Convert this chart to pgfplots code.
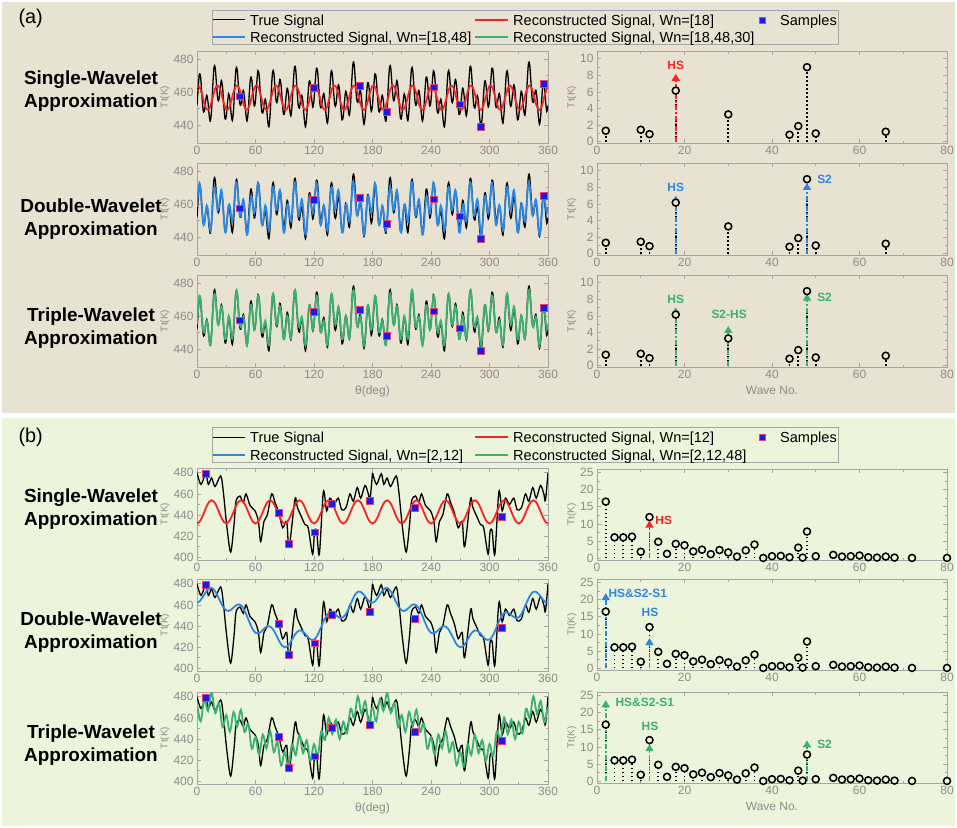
\documentclass[border=0pt]{standalone}
\usepackage{pgfplots}
\pgfplotsset{compat=1.18}
\usepackage{pgfplotstable}
\usepackage{fontspec}
\setmainfont{Liberation Sans}
\usetikzlibrary{arrows.meta}

\definecolor{bgA}{RGB}{231,226,210}
\definecolor{bgB}{RGB}{237,244,220}
\definecolor{axg}{RGB}{165,165,165}
\definecolor{tlg}{RGB}{140,140,140}
\definecolor{cRed}{RGB}{250,35,35}
\definecolor{cBlue}{RGB}{45,135,225}
\definecolor{cGreen}{RGB}{60,175,115}
\definecolor{sBlue}{RGB}{25,25,245}
\definecolor{sEdge}{RGB}{235,60,110}

% ---------- (a) true signal, one 180-degree period
\pgfplotstableread{
t v
0 451.90
1.25 462.91
2.5 471.08
3.75 468.85
5 458.34
6.25 449.06
7.5 448.28
8.75 454.13
10 458.05
11.25 454.14
12.5 445.68
13.75 442.23
15 449.84
16.25 464.55
17.5 475.36
18.75 474.52
20 464.56
21.25 455.66
22.5 455.53
23.75 462.35
25 466.97
26.25 462.61
27.5 451.78
28.75 443.74
30 445.14
31.25 453.27
32.5 458.86
33.75 455.64
35 446.93
36.25 442.69
37.5 449.46
38.75 463.63
40 474.28
41.25 473.43
42.5 463.22
43.75 453.53
45 452.10
46.25 457.40
47.5 460.95
48.75 456.62
50 447.35
51.25 442.40
52.5 447.88
53.75 460.19
55 469.01
56.25 467.30
57.5 458.06
58.75 451.49
60 454.84
61.25 465.38
62.5 472.96
63.75 470.06
65 458.82
66.25 448.79
67.5 447.27
68.75 452.43
70 455.73
71.25 451.32
72.5 442.49
73.75 438.82
75 446.37
76.25 461.19
77.5 472.27
78.75 471.85
80 462.43
81.25 454.17
82.5 454.75
83.75 462.31
85 467.69
86.25 464.05
87.5 453.86
88.75 446.38
90 448.20
91.25 456.61
92.5 462.32
93.75 459.05
95 450.14
96.25 445.54
97.5 451.82
98.75 465.39
100 475.35
101.25 473.76
102.5 462.80
103.75 452.37
105 450.26
106.25 454.97
107.5 458.04
108.75 453.38
110 443.92
111.25 438.94
112.5 444.57
113.75 457.17
115 466.43
116.25 465.29
117.5 456.70
118.75 450.86
120 454.96
121.25 466.25
122.5 474.54
123.75 472.26
125 461.55
126.25 451.91
127.5 450.64
128.75 455.89
130 459.12
131.25 454.47
132.5 445.26
133.75 441.07
135 448.00
136.25 462.12
137.5 472.45
138.75 471.28
140 461.13
141.25 452.20
142.5 452.22
143.75 459.33
145 464.39
146.25 460.60
147.5 450.42
148.75 443.11
150 445.26
151.25 454.14
152.5 460.44
153.75 457.84
155 449.66
156.25 445.81
157.5 452.83
158.75 467.09
160 477.67
161.25 476.58
162.5 465.99
163.75 455.78
165 453.73
166.25 458.33
167.5 461.13
168.75 456.05
170 446.05
171.25 440.43
172.5 445.35
173.75 457.21
175 465.71
176.25 463.85
177.5 454.62
178.75 448.22
180 451.90
}\trueA

% ---------- (a) reconstruction Wn=[18,48], one 60-degree period
\pgfplotstableread{
t v
0 458.38
1.25 467.46
2.5 472.91
3.75 468.62
5 457.34
6.25 448.18
7.5 447.85
8.75 454.28
10 459.10
11.25 456.27
12.5 448.34
13.75 443.90
15 448.93
16.25 460.57
17.5 469.63
18.75 469.45
20 462.15
21.25 456.25
22.5 457.93
23.75 464.85
25 468.55
26.25 463.16
27.5 451.62
28.75 443.07
30 444.12
31.25 452.50
32.5 459.55
33.75 458.88
35 452.70
36.25 449.36
37.5 454.65
38.75 465.68
40 473.36
41.25 471.23
42.5 461.70
43.75 453.64
45 453.57
46.25 459.39
47.5 462.83
48.75 458.05
50 447.89
51.25 441.29
52.5 444.57
53.75 455.11
55 463.91
56.25 464.34
57.5 458.42
58.75 454.47
60 458.38
}\blueA

% ---------- (a) reconstruction Wn=[18,48,30], one 60-degree period
\pgfplotstableread{
t v
0 455.10
1.25 465.07
2.5 472.39
3.75 470.19
5 460.35
6.25 451.39
7.5 449.93
8.75 454.37
10 457.16
11.25 453.11
12.5 445.26
13.75 442.18
15 449.27
16.25 462.84
17.5 472.89
18.75 472.35
20 463.49
21.25 455.48
22.5 455.37
23.75 461.55
25 465.88
26.25 462.22
27.5 452.80
28.75 445.88
30 447.40
31.25 454.89
32.5 460.07
33.75 457.31
35 449.69
36.25 446.15
37.5 452.57
38.75 465.59
40 475.30
41.25 474.39
42.5 464.78
43.75 455.36
45 453.23
46.25 457.12
47.5 459.57
48.75 455.15
50 446.55
51.25 442.06
52.5 447.13
53.75 458.41
55 466.58
56.25 465.28
57.5 457.24
58.75 451.66
60 455.10
}\greenA

% ---------- (b) reconstruction Wn=[2,12], one 180-degree period
\pgfplotstableread{
t v
0 462.07
2.5 463.32
5 466.15
7.5 469.82
10 473.32
12.5 475.67
15 476.11
17.5 474.4
20 470.78
22.5 466.03
25 461.14
27.5 457.13
30 454.76
32.5 454.27
35 455.45
37.5 457.54
40 459.57
42.5 460.54
45 459.72
47.5 456.87
50 452.25
52.5 446.63
55 441.03
57.5 436.46
60 433.68
62.5 432.96
65 434.05
67.5 436.23
70 438.49
72.5 439.87
75 439.61
77.5 437.47
80 433.72
82.5 429.1
85 424.64
87.5 421.33
90 419.93
92.5 420.68
95 423.35
97.5 427.18
100 431.18
102.5 434.33
105 435.89
107.5 435.6
110 433.72
112.5 430.97
115 428.36
117.5 426.87
120 427.24
122.5 429.73
125 434.05
127.5 439.46
130 444.93
132.5 449.46
135 452.28
137.5 453.13
140 452.25
142.5 450.37
145 448.47
147.5 447.54
150 448.32
152.5 451.04
155 455.45
157.5 460.77
160 466.01
162.5 470.13
165 472.39
167.5 472.53
170 470.78
172.5 467.9
175 464.86
177.5 462.67
180 462.07
}\blueB

% ---------- (b) reconstruction Wn=[2,12,48], one 180-degree period
\pgfplotstableread{
t v
0 470.07
1.25 466.7
2.5 459.32
3.75 456.74
5 462.15
6.25 471.99
7.5 477.82
8.75 475.57
10 469.32
11.25 466.5
12.5 471.67
13.75 479.89
15 484.11
16.25 479.26
17.5 470.4
18.75 464.59
20 466.78
21.25 472.4
22.5 474.03
23.75 467.59
25 457.14
26.25 451.14
27.5 453.13
28.75 459.95
30 462.76
31.25 458.52
32.5 450.27
33.75 446.86
35 451.45
36.25 460.5
37.5 465.54
38.75 462.56
40 455.57
41.25 452.06
42.5 456.54
43.75 464.13
45 467.72
46.25 462.3
47.5 452.87
48.75 446.56
50 448.25
51.25 453.44
52.5 454.63
53.75 447.83
55 437.03
56.25 430.75
57.5 432.46
58.75 439.07
60 441.68
61.25 437.32
62.5 428.96
63.75 425.51
65 430.05
66.25 439.14
67.5 444.23
68.75 441.36
70 434.49
71.25 431.18
72.5 435.87
73.75 443.74
75 447.61
76.25 442.54
77.5 433.47
78.75 427.6
80 429.72
81.25 435.41
82.5 437.1
83.75 430.87
85 420.64
86.25 414.99
87.5 417.33
88.75 424.63
90 427.93
91.25 424.31
92.5 416.68
93.75 414.02
95 419.35
96.25 429.27
97.5 435.18
98.75 433.18
100 427.18
101.25 424.76
102.5 430.33
103.75 439.11
105 443.89
106.25 439.75
107.5 431.6
108.75 426.66
110 429.72
111.25 436.35
112.5 438.97
113.75 433.67
115 424.36
116.25 419.62
117.5 422.87
118.75 431.06
120 435.24
121.25 432.49
122.5 425.73
123.75 423.89
125 430.05
126.25 440.76
127.5 447.46
128.75 446.2
130 440.93
131.25 439.2
132.5 445.46
133.75 454.87
135 460.28
136.25 456.71
137.5 449.13
138.75 444.69
140 448.25
141.25 455.31
142.5 458.37
143.75 453.42
145 444.47
146.25 440.0
147.5 443.54
148.75 451.93
150 456.32
151.25 453.68
152.5 447.04
153.75 445.25
155 451.45
156.25 462.11
157.5 468.77
158.75 467.39
160 462.01
161.25 460.07
162.5 466.13
163.75 475.26
165 480.39
166.25 476.46
167.5 468.53
168.75 463.66
170 466.78
171.25 473.34
172.5 475.9
173.75 470.38
175 460.86
176.25 455.77
177.5 458.67
178.75 466.37
180 470.07
}\greenB

% ---------- (b) true signal, one 180-degree period
\pgfplotstableread{
t v
0 480
4.1 469
9 479
11.6 469
15 475
18.5 467
24.3 477
27 462
30.4 431
34.5 405
38 431
40 453
44 458
47.5 452
50.3 460
54.4 449
59.5 444
63 434
65.3 415
68.7 434
72.1 440
76.6 460
80 452
84 442
87.9 428
92 434
94.5 410
100.5 455
103 447
107.3 438
110.7 431
114 428
118.6 403
120.5 424
122.7 425
125.5 403
129.6 462
133 444
136.4 456
140.5 450
144.9 456
148.4 445
152.8 447
156.9 460
160.3 453
164.4 466
167.9 456
172.3 468
175.7 460
177.4 454
180 480
}\trueB

\pgfplotstableread{
t v
43.4 457.5
120 462.6
166.5 463.7
194.5 447.9
242.7 463
269.7 452.6
291 438.7
355.2 465.1
}\sampA

\pgfplotstableread{
t v
9.2 479.4
84.1 442.2
94 412.7
120.3 423.9
138.5 450.9
177.4 453.7
223.3 447.1
312.8 438.4
}\sampB

\pgfplotsset{
 base/.style={scale only axis, anchor=north west,
   axis line style={axg,line width=0.8bp},
   every tick/.style={axg,line width=0.8bp},
   tick align=inside, major tick length=4bp, minor tick length=2.5bp,
   tick label style={font=\fontsize{12}{12}\selectfont, text=tlg},
   /pgf/number format/assume math mode=true,
   xlabel style={font=\fontsize{12}{12}\selectfont, text=tlg},
   ylabel style={font=\fontsize{10}{10}\selectfont, text=tlg},
   ylabel shift=-3bp,
   ylabel={Tt(K)}},
 leftax/.style={base, width=351bp, xmin=0, xmax=360, xtick={0,60,...,360}, minor x tick num=1},
 leftA/.style={leftax, height=92bp, ymin=429, ymax=485, ytick={440,460,480}, minor y tick num=1},
 leftB/.style={leftax, height=92bp, ymin=397.5, ymax=484.5, ytick={400,420,...,480}, minor y tick num=1},
 rightax/.style={base, width=350bp, xmin=0, xmax=80, xtick={0,20,...,80}, minor x tick num=1},
 rightA/.style={rightax, height=92bp, ymin=-0.15, ymax=10.95, ytick={0,2,...,10}, minor y tick num=1},
 rightB/.style={rightax, height=91bp, ymin=-0.5, ymax=26, ytick={0,5,...,25}, minor y tick num=1},
 trueline/.style={black, line width=1.3bp, smooth, forget plot},
 recline/.style={#1, line width=1.8bp, smooth, forget plot},
 samp/.style={only marks, mark=square*, mark size=3.4bp, mark options={solid, fill=sBlue, draw=sEdge, line width=0.35bp}, forget plot},
 stem/.style={ycomb, black, line width=1.8bp, dash pattern=on 1.6bp off 2.4bp, mark=*, mark size=3.5bp, mark options={solid, line width=1.5bp, draw=black, fill=#1}, forget plot},
 arr/.style={#1, line width=1.6bp, dash pattern=on 5bp off 2bp on 1.6bp off 2bp, -{Triangle[width=8bp,length=7bp]}, quiver={u=0, v=\thisrow{v}}, forget plot},
}
\tikzset{lab/.style={text=#1, font=\fontsize{12}{12}\selectfont\bfseries, inner sep=0pt},
  lg/.style={anchor=base west, inner sep=0pt, font=\fontsize{14.6}{15}\selectfont}}

% legend drawn at given top offset (in bp, downwards)
\newcommand{\legendbox}[6]{%
  % #1 = y offset, #2 = red label, #3 = blue label, #4 = green label
  \begin{scope}[yshift=-#1 bp]
  \draw[axg, line width=0.8bp] (212bp,-10bp) rectangle (838bp,-44.5bp);
  \draw[black, line width=1.3bp] (213bp,-19.8bp) -- (245bp,-19.8bp);
  \node[lg] at (250bp,-25bp) {True Signal};
  \draw[cRed, line width=1.8bp] (475bp,-19.8bp) -- (508bp,-19.8bp);
  \node[lg] at (513bp,-25bp) {#2};
  \fill[sBlue, draw=sEdge, line width=0.35bp] (759bp,-16.8bp) rectangle (765bp,-22.8bp);
  \node[lg] at (780bp,-25bp) {Samples};
  \draw[cBlue, line width=1.8bp] (213bp,-37.3bp) -- (245bp,-37.3bp);
  \node[lg] at (250bp,-42.5bp) {#3};
  \draw[cGreen, line width=1.8bp] (475bp,-37.3bp) -- (508bp,-37.3bp);
  \node[lg] at (513bp,-42.5bp) {#4};
  \end{scope}}

\begin{document}
\begin{tikzpicture}
\useasboundingbox (0,0) rectangle (957bp,-828bp);
\fill[white] (0,0) rectangle (957bp,-828bp);
\fill[bgA] (2bp,-2bp) rectangle (955bp,-413bp);
\fill[bgB] (2bp,-418bp) rectangle (955bp,-826bp);

\node[anchor=west, font=\fontsize{20}{20}\selectfont] at (15bp,-18bp) {(a)};
\node[anchor=west, font=\fontsize{20}{20}\selectfont] at (15bp,-437bp) {(b)};
\foreach \y/\t in {91.5/Single, 219/Double, 328.5/Triple, 509/Single, 632.5/Double, 745.5/Triple}
  \node[align=center, font=\bfseries\fontsize{19}{23}\selectfont] at (91bp,-\y bp) {\t-Wavelet\\Approximation};

\legendbox{0}{Reconstructed Signal, Wn=[18]}{Reconstructed Signal, Wn=[18,48]}{Reconstructed Signal, Wn=[18,48,30]}{}{}
\legendbox{417.5}{Reconstructed Signal, Wn=[12]}{Reconstructed Signal, Wn=[2,12]}{Reconstructed Signal, Wn=[2,12,48]}{}{}

% ================= (a) left column
\begin{axis}[leftA, at={(197bp,-51bp)}]
\addplot[trueline] table[x=t, y=v]{\trueA};
\addplot[trueline] table[x expr=\thisrow{t}+180, y=v]{\trueA};
\addplot[recline=cRed] coordinates {
(0,463.73)(2.5,463.28)(5,458.92)(7.5,453.2)(10,449.47)(12.5,449.92)(15,454.28)(17.5,460)
(20,463.73)(22.5,463.28)(25,458.92)(27.5,453.2)(30,449.47)(32.5,449.92)(35,454.28)(37.5,460)
(40,463.73)(42.5,463.28)(45,458.92)(47.5,453.2)(50,449.47)(52.5,449.92)(55,454.28)(57.5,460)
(60,463.73)(62.5,463.28)(65,458.92)(67.5,453.2)(70,449.47)(72.5,449.92)(75,454.28)(77.5,460)
(80,463.73)(82.5,463.28)(85,458.92)(87.5,453.2)(90,449.47)(92.5,449.92)(95,454.28)(97.5,460)
(100,463.73)(102.5,463.28)(105,458.92)(107.5,453.2)(110,449.47)(112.5,449.92)(115,454.28)(117.5,460)
(120,463.73)(122.5,463.28)(125,458.92)(127.5,453.2)(130,449.47)(132.5,449.92)(135,454.28)(137.5,460)
(140,463.73)(142.5,463.28)(145,458.92)(147.5,453.2)(150,449.47)(152.5,449.92)(155,454.28)(157.5,460)
(160,463.73)(162.5,463.28)(165,458.92)(167.5,453.2)(170,449.47)(172.5,449.92)(175,454.28)(177.5,460)
(180,463.73)(182.5,463.28)(185,458.92)(187.5,453.2)(190,449.47)(192.5,449.92)(195,454.28)(197.5,460)
(200,463.73)(202.5,463.28)(205,458.92)(207.5,453.2)(210,449.47)(212.5,449.92)(215,454.28)(217.5,460)
(220,463.73)(222.5,463.28)(225,458.92)(227.5,453.2)(230,449.47)(232.5,449.92)(235,454.28)(237.5,460)
(240,463.73)(242.5,463.28)(245,458.92)(247.5,453.2)(250,449.47)(252.5,449.92)(255,454.28)(257.5,460)
(260,463.73)(262.5,463.28)(265,458.92)(267.5,453.2)(270,449.47)(272.5,449.92)(275,454.28)(277.5,460)
(280,463.73)(282.5,463.28)(285,458.92)(287.5,453.2)(290,449.47)(292.5,449.92)(295,454.28)(297.5,460)
(300,463.73)(302.5,463.28)(305,458.92)(307.5,453.2)(310,449.47)(312.5,449.92)(315,454.28)(317.5,460)
(320,463.73)(322.5,463.28)(325,458.92)(327.5,453.2)(330,449.47)(332.5,449.92)(335,454.28)(337.5,460)
(340,463.73)(342.5,463.28)(345,458.92)(347.5,453.2)(350,449.47)(352.5,449.92)(355,454.28)(357.5,460)
(360,463.73)};
\addplot[samp] table[x=t,y=v]{\sampA};
\end{axis}

\begin{axis}[leftA, at={(197bp,-163bp)}]
\addplot[trueline] table[x=t, y=v]{\trueA};
\addplot[trueline] table[x expr=\thisrow{t}+180, y=v]{\trueA};
\pgfplotsinvokeforeach{0,60,120,180,240,300}{\addplot[recline=cBlue] table[x expr=\thisrow{t}+#1, y=v]{\blueA};}
\addplot[samp] table[x=t,y=v]{\sampA};
\end{axis}

\begin{axis}[leftA, at={(197bp,-275bp)}, xlabel={θ(deg)}]
\addplot[trueline] table[x=t, y=v]{\trueA};
\addplot[trueline] table[x expr=\thisrow{t}+180, y=v]{\trueA};
\pgfplotsinvokeforeach{0,60,120,180,240,300}{\addplot[recline=cGreen] table[x expr=\thisrow{t}+#1, y=v]{\greenA};}
\addplot[samp] table[x=t,y=v]{\sampA};
\end{axis}

% ================= (a) right column
\begin{axis}[rightA, at={(597bp,-51bp)}]
\addplot[stem=bgA] coordinates {(2,1.33)(10,1.45)(12,0.92)(18,6.17)(30,3.3)(44,0.85)(46,1.89)(48,9.0)(50,1.0)(66,1.21)};
\addplot[arr=cRed] table[x=x,y=y]{
x y v
18 0 8.2
};
\node[lab=cRed] at (axis cs:18,9.2) {HS};
\end{axis}

\begin{axis}[rightA, at={(597bp,-163bp)}]
\addplot[stem=bgA] coordinates {(2,1.33)(10,1.45)(12,0.92)(18,6.17)(30,3.3)(44,0.85)(46,1.89)(48,9.0)(50,1.0)(66,1.21)};
\addplot[arr=cBlue] table[x=x,y=y]{
x y v
18 0 7.0
48 0 8.55
};
\node[lab=cBlue] at (axis cs:18,8.0) {HS};
\node[lab=cBlue, anchor=west] at (axis cs:50.3,9.0) {S2};
\end{axis}

\begin{axis}[rightA, at={(597bp,-275bp)}, xlabel={Wave No.}]
\addplot[stem=bgA] coordinates {(2,1.33)(10,1.45)(12,0.92)(18,6.17)(30,3.3)(44,0.85)(46,1.89)(48,9.0)(50,1.0)(66,1.21)};
\addplot[arr=cGreen] table[x=x,y=y]{
x y v
18 0 7.05
30 0 4.8
48 0 8.7
};
\node[lab=cGreen] at (axis cs:18,8.0) {HS};
\node[lab=cGreen] at (axis cs:30.2,6.25) {S2-HS};
\node[lab=cGreen, anchor=west] at (axis cs:50.3,8.3) {S2};
\end{axis}

% ================= (b) left column
\begin{axis}[leftB, at={(197bp,-468bp)}]
\addplot[trueline] table[x=t, y=v]{\trueB};
\addplot[trueline] table[x expr=\thisrow{t}+180, y=v]{\trueB};
\addplot[recline=cRed] coordinates {
(0,432)(2.5,433.47)(5,437.5)(7.5,443)(10,448.5)(12.5,452.53)(15,454)(17.5,452.53)(20,448.5)(22.5,443)(25,437.5)(27.5,433.47)
(30,432)(32.5,433.47)(35,437.5)(37.5,443)(40,448.5)(42.5,452.53)(45,454)(47.5,452.53)(50,448.5)(52.5,443)(55,437.5)(57.5,433.47)
(60,432)(62.5,433.47)(65,437.5)(67.5,443)(70,448.5)(72.5,452.53)(75,454)(77.5,452.53)(80,448.5)(82.5,443)(85,437.5)(87.5,433.47)
(90,432)(92.5,433.47)(95,437.5)(97.5,443)(100,448.5)(102.5,452.53)(105,454)(107.5,452.53)(110,448.5)(112.5,443)(115,437.5)(117.5,433.47)
(120,432)(122.5,433.47)(125,437.5)(127.5,443)(130,448.5)(132.5,452.53)(135,454)(137.5,452.53)(140,448.5)(142.5,443)(145,437.5)(147.5,433.47)
(150,432)(152.5,433.47)(155,437.5)(157.5,443)(160,448.5)(162.5,452.53)(165,454)(167.5,452.53)(170,448.5)(172.5,443)(175,437.5)(177.5,433.47)
(180,432)(182.5,433.47)(185,437.5)(187.5,443)(190,448.5)(192.5,452.53)(195,454)(197.5,452.53)(200,448.5)(202.5,443)(205,437.5)(207.5,433.47)
(210,432)(212.5,433.47)(215,437.5)(217.5,443)(220,448.5)(222.5,452.53)(225,454)(227.5,452.53)(230,448.5)(232.5,443)(235,437.5)(237.5,433.47)
(240,432)(242.5,433.47)(245,437.5)(247.5,443)(250,448.5)(252.5,452.53)(255,454)(257.5,452.53)(260,448.5)(262.5,443)(265,437.5)(267.5,433.47)
(270,432)(272.5,433.47)(275,437.5)(277.5,443)(280,448.5)(282.5,452.53)(285,454)(287.5,452.53)(290,448.5)(292.5,443)(295,437.5)(297.5,433.47)
(300,432)(302.5,433.47)(305,437.5)(307.5,443)(310,448.5)(312.5,452.53)(315,454)(317.5,452.53)(320,448.5)(322.5,443)(325,437.5)(327.5,433.47)
(330,432)(332.5,433.47)(335,437.5)(337.5,443)(340,448.5)(342.5,452.53)(345,454)(347.5,452.53)(350,448.5)(352.5,443)(355,437.5)(357.5,433.47)
(360,432)};
\addplot[samp] table[x=t,y=v]{\sampB};
\end{axis}

\begin{axis}[leftB, at={(197bp,-579bp)}]
\addplot[trueline] table[x=t, y=v]{\trueB};
\addplot[trueline] table[x expr=\thisrow{t}+180, y=v]{\trueB};
\addplot[recline=cBlue] table[x=t, y=v]{\blueB};
\addplot[recline=cBlue] table[x expr=\thisrow{t}+180, y=v]{\blueB};
\addplot[samp] table[x=t,y=v]{\sampB};
\end{axis}

\begin{axis}[leftB, at={(197bp,-692bp)}, xlabel={θ(deg)}]
\addplot[trueline] table[x=t, y=v]{\trueB};
\addplot[trueline] table[x expr=\thisrow{t}+180, y=v]{\trueB};
\addplot[recline=cGreen] table[x=t, y=v]{\greenB};
\addplot[recline=cGreen] table[x expr=\thisrow{t}+180, y=v]{\greenB};
\addplot[samp] table[x=t,y=v]{\sampB};
\end{axis}

% ================= (b) right column
\begin{axis}[rightB, at={(597bp,-469bp)}]
\addplot[stem=bgB] coordinates {(2,16.5)(4,6.1)(6,6.1)(8,6.3)(10,1.9)(12,12.0)(14,4.8)(16,1.3)(18,4.2)(20,3.8)(22,2.0)(24,2.5)(26,1.2)(28,2.4)(30,1.7)(32,0.5)(34,2.3)(36,4.0)(38,0.1)(40,0.6)(42,0.7)(44,0.3)(46,3.1)(47,0.2)(48,7.8)(50,0.6)(54,1.0)(56,0.5)(58,0.6)(60,0.8)(62,0.3)(64,0.2)(66,0.5)(68,0.2)(72,0.1)(80,0.1)};
\addplot[arr=cRed] table[x=x,y=y]{
x y v
12 0 11
};
\node[lab=cRed, anchor=west] at (axis cs:13.3,10.9) {HS};
\end{axis}

\begin{axis}[rightB, at={(597bp,-579bp)}]
\addplot[stem=bgB] coordinates {(2,16.5)(4,6.1)(6,6.1)(8,6.3)(10,1.9)(12,12.0)(14,4.8)(16,1.3)(18,4.2)(20,3.8)(22,2.0)(24,2.5)(26,1.2)(28,2.4)(30,1.7)(32,0.5)(34,2.3)(36,4.0)(38,0.1)(40,0.6)(42,0.7)(44,0.3)(46,3.1)(47,0.2)(48,7.8)(50,0.6)(54,1.0)(56,0.5)(58,0.6)(60,0.8)(62,0.3)(64,0.2)(66,0.5)(68,0.2)(72,0.1)(80,0.1)};
\addplot[arr=cBlue] table[x=x,y=y]{
x y v
2 0 21.9
12 0 8.8
};
\node[lab=cBlue, anchor=west] at (axis cs:2.6,21.8) {HS\&S2-S1};
\node[lab=cBlue] at (axis cs:12.1,16.2) {HS};
\end{axis}

\begin{axis}[rightB, at={(597bp,-692bp)}, xlabel={Wave No.}]
\addplot[stem=bgB] coordinates {(2,16.5)(4,6.1)(6,6.1)(8,6.3)(10,1.9)(12,12.0)(14,4.8)(16,1.3)(18,4.2)(20,3.8)(22,2.0)(24,2.5)(26,1.2)(28,2.4)(30,1.7)(32,0.5)(34,2.3)(36,4.0)(38,0.1)(40,0.6)(42,0.7)(44,0.3)(46,3.1)(47,0.2)(48,7.8)(50,0.6)(54,1.0)(56,0.5)(58,0.6)(60,0.8)(62,0.3)(64,0.2)(66,0.5)(68,0.2)(72,0.1)(80,0.1)};
\addplot[arr=cGreen] table[x=x,y=y]{
x y v
2 0 23.6
12 0 10.8
48 0 11.9
};
\node[lab=cGreen, anchor=west] at (axis cs:4.2,22.9) {HS\&S2-S1};
\node[lab=cGreen] at (axis cs:12.1,16.0) {HS};
\node[lab=cGreen, anchor=west] at (axis cs:50.3,10.8) {S2};
\end{axis}
\end{tikzpicture}
\end{document}
